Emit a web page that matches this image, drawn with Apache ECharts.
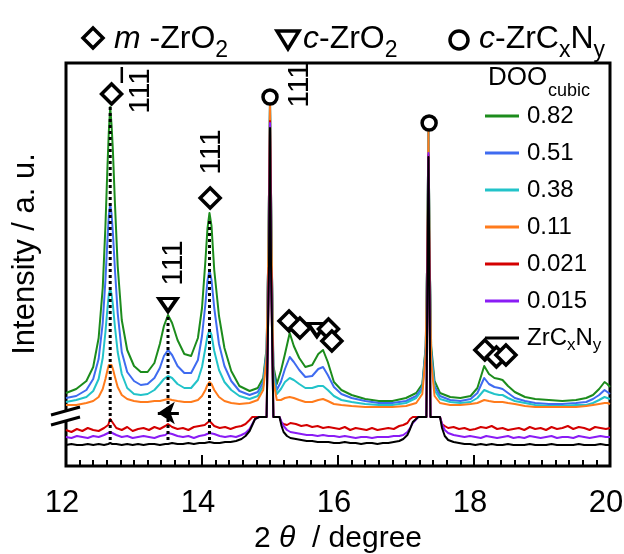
<!DOCTYPE html>
<html>
<head>
<meta charset="utf-8">
<script src="https://cdn.jsdelivr.net/npm/echarts@6/dist/echarts.min.js"></script>
<style>
  html, body { margin: 0; padding: 0; background: #fff; }
  #main { width: 624px; height: 554px; }
</style>
</head>
<body>
<div id="main"></div>
<script>
// 2θ grid for the four upper (colored) patterns
const twoThetaUpper = [
  12.0, 12.15, 12.3, 12.4, 12.48, 12.54, 12.58, 12.61, 12.63, 12.65,
  12.67, 12.69, 12.72, 12.76, 12.82, 12.9, 13.0, 13.1, 13.2, 13.3,
  13.38, 13.44, 13.5, 13.56, 13.64, 13.74, 13.84, 13.94, 14.0, 14.05,
  14.08, 14.11, 14.14, 14.18, 14.25, 14.33, 14.43, 14.55, 14.7, 14.82,
  14.9, 14.95, 14.975, 15.0, 15.025, 15.05, 15.1, 15.16, 15.22, 15.29,
  15.35, 15.43, 15.52, 15.62, 15.71, 15.78, 15.85, 15.94, 16.05, 16.2,
  16.4, 16.6, 16.8, 17.0, 17.15, 17.24, 17.29, 17.31, 17.33, 17.35,
  17.37, 17.42, 17.5, 17.65, 17.8, 17.95, 18.05, 18.15, 18.22, 18.3,
  18.37, 18.42, 18.5, 18.6, 18.75, 18.9, 19.1, 19.3, 19.5, 19.65,
  19.75, 19.84, 19.92, 19.96, 20.0
];
// 2θ grid for the three lower patterns
const twoThetaLower = [
  12.0, 12.08, 12.16, 12.24, 12.32, 12.4, 12.48, 12.56, 12.62, 12.65,
  12.68, 12.74, 12.82, 12.9, 12.98, 13.06, 13.14, 13.22, 13.3, 13.38,
  13.46, 13.5, 13.56, 13.64, 13.72, 13.8, 13.88, 13.96, 14.04, 14.11,
  14.18, 14.26, 14.34, 14.42, 14.5, 14.58, 14.64, 14.7, 14.74, 14.78,
  14.84, 14.9, 14.95, 14.985, 15.0, 15.015, 15.05, 15.1, 15.14, 15.17,
  15.2, 15.25, 15.3, 15.38, 15.46, 15.54, 15.62, 15.7, 15.78, 15.86,
  15.94, 16.02, 16.1, 16.18, 16.26, 16.34, 16.42, 16.5, 16.58, 16.66,
  16.74, 16.82, 16.9, 16.96, 17.02, 17.06, 17.1, 17.18, 17.26, 17.3,
  17.33, 17.36, 17.4, 17.45, 17.5, 17.53, 17.57, 17.62, 17.7, 17.78,
  17.86, 17.94, 18.02, 18.1, 18.18, 18.26, 18.34, 18.42, 18.5, 18.58,
  18.66, 18.74, 18.82, 18.9, 18.98, 19.06, 19.14, 19.22, 19.3, 19.38,
  19.46, 19.54, 19.62, 19.7, 19.78, 19.86, 19.94, 20.0
];

// intensities (arbitrary units, stacked offsets included)
const doo082 = [
  73, 77, 85, 99, 128, 178, 240, 300, 335, 359,
  341, 315, 262, 200, 146, 116, 100, 94, 94, 103,
  122, 140, 151, 143, 126, 112, 110, 128, 158, 205,
  237, 253, 240, 196, 150, 118, 95, 80, 75, 78,
  88, 118, 210, 365, 210, 100, 82, 95, 112, 133,
  120, 108, 99, 101, 112, 116, 104, 84, 76, 71,
  67, 65, 65, 68, 73, 82, 120, 200, 334, 200,
  120, 85, 73, 69, 68, 70, 78, 100, 92, 88,
  87, 86, 80, 74, 69, 67, 66, 65, 66, 68,
  71, 77, 84, 82, 79
];
const doo051 = [
  68, 70, 76, 87, 107, 143, 186, 227, 251, 262,
  252, 233, 196, 153, 114, 94, 85, 81, 82, 88,
  98, 110, 116, 111, 100, 93, 93, 106, 130, 162,
  185, 196, 186, 158, 122, 100, 85, 75, 71, 74,
  84, 115, 210, 364, 210, 95, 76, 84, 97, 109,
  104, 96, 89, 90, 97, 99, 91, 79, 72, 68,
  65, 63, 63, 65, 70, 79, 118, 200, 334, 200,
  115, 80, 70, 66, 65, 67, 73, 88, 82, 79,
  78, 77, 73, 68, 65, 63, 62, 62, 63, 64,
  67, 71, 76, 74, 72
];
const doo038 = [
  64, 66, 69, 75, 87, 108, 134, 158, 172, 177,
  172, 161, 139, 114, 92, 78, 72, 71, 72, 76,
  82, 87, 90, 88, 82, 78, 78, 86, 99, 118,
  130, 136, 131, 115, 96, 84, 76, 70, 67, 70,
  80, 112, 210, 363, 210, 90, 72, 77, 84, 88,
  86, 82, 78, 78, 80, 80, 76, 70, 66, 64,
  62, 61, 61, 63, 68, 76, 115, 200, 334, 200,
  110, 76, 67, 64, 63, 64, 68, 76, 74, 72,
  71, 71, 68, 65, 63, 61, 60, 60, 61, 61,
  63, 66, 69, 68, 67
];
const doo011 = [
  61, 61, 63, 65, 69, 77, 87, 96, 101, 103,
  101, 97, 89, 79, 71, 67, 65, 64, 64, 65,
  65, 66, 67, 66, 65, 64, 64, 66, 70, 76,
  81, 84, 82, 76, 69, 65, 63, 62, 63, 66,
  76, 108, 210, 366, 210, 85, 66, 66, 68, 69,
  68, 66, 64, 64, 66, 67, 65, 62, 61, 60,
  59, 59, 59, 60, 63, 72, 112, 200, 335, 200,
  105, 70, 63, 61, 61, 62, 63, 66, 65, 64,
  64, 64, 63, 62, 60, 59, 59, 59, 59, 60,
  61, 62, 63, 63, 62
];
const doo0021 = [
  36, 34, 37, 35, 38, 36, 35, 38, 41, 47,
  44, 38, 36, 39, 35, 37, 38, 36, 39, 37,
  40, 42, 39, 37, 38, 36, 39, 40, 41, 45,
  40, 38, 39, 37, 39, 40, 42, 46, 49, 49,
  49, 49, 49, 200, 345, 200, 49, 49, 49, 43,
  42, 41, 43, 42, 40, 41, 39, 40, 38, 39,
  38, 37, 39, 36, 38, 37, 36, 38, 36, 37,
  38, 37, 40, 41, 43, 47, 49, 49, 49, 49,
  311, 49, 49, 49, 49, 42, 40, 38, 39, 37,
  38, 36, 37, 39, 38, 40, 37, 38, 36, 37,
  38, 36, 39, 37, 38, 36, 39, 37, 38, 40,
  37, 39, 38, 36, 39, 38, 37, 38
];
const doo0015 = [
  29, 28, 30, 29, 28, 30, 29, 31, 33, 34,
  33, 31, 29, 30, 28, 29, 30, 29, 28, 30,
  31, 33, 32, 30, 29, 30, 28, 30, 31, 33,
  32, 30, 29, 30, 29, 31, 33, 37, 42, 47,
  49, 49, 49, 200, 343, 200, 49, 49, 49, 44,
  40, 36, 34, 33, 32, 31, 31, 30, 31, 30,
  30, 29, 30, 29, 28, 29, 29, 28, 29, 29,
  29, 30, 30, 31, 34, 38, 43, 49, 49, 49,
  313, 49, 49, 49, 49, 42, 36, 33, 31, 30,
  29, 30, 29, 28, 30, 29, 28, 29, 30, 28,
  29, 28, 30, 29, 28, 29, 30, 28, 29, 29,
  28, 30, 29, 28, 29, 30, 29, 29
];
const zrcxny = [
  21, 22, 21, 21, 22, 21, 22, 21, 22, 23,
  22, 22, 21, 22, 21, 22, 21, 22, 22, 21,
  22, 22, 23, 22, 22, 23, 22, 23, 23, 24,
  23, 23, 24, 24, 25, 27, 30, 35, 41, 47,
  49, 49, 49, 200, 338, 200, 49, 49, 49, 40,
  34, 30, 28, 27, 26, 25, 25, 24, 24, 24,
  23, 23, 24, 23, 23, 22, 23, 23, 22, 23,
  23, 24, 25, 27, 31, 37, 44, 49, 49, 49,
  309, 49, 49, 49, 49, 38, 30, 26, 24, 23,
  22, 22, 21, 22, 21, 22, 21, 21, 22, 21,
  21, 21, 22, 21, 21, 21, 22, 21, 21, 21,
  21, 22, 21, 21, 21, 22, 21, 21
];

const curveNames = ['0.82', '0.51', '0.38', '0.11', '0.021', '0.015', 'ZrCxNy'];
const curveColors = ['#1c8c1c', '#3f6bf0', '#22c3c9', '#ff7b1c', '#d40000', '#8a1cf5', '#000000'];

// phase markers
const diamondX = [12.67, 14.12, 15.28, 15.44, 15.86, 15.91, 18.16, 18.33, 18.47];
const diamondY = [372, 268, 145, 138, 137, 125, 116, 109, 111];
const triangleX = [13.5, 15.69];
const triangleY = [161, 136];
const circleX = [15.0, 17.34];
const circleY = [369, 343];

// dotted guide lines + shift arrow
const dropLineX = [12.65, 13.5, 14.11];
const dropLineTop = [359, 149, 248];
const dropLineBottom = 26;
const arrowFrom = [13.66, 53];
const arrowTo = [13.35, 53];

// hkl labels (rotated)
const hklLabelX = [13.10, 13.59, 14.15, 15.43];
const hklLabelY = [375, 203, 314, 381];
const hklLabelText = ['111', '111', '111', '111'];

const FONT = '"Liberation Sans", Arial, Helvetica, sans-serif';
const chart = echarts.init(document.getElementById('main'));

const pair = (xs, ys) => xs.map((x, i) => [x, ys[i]]);
const curveValues = [doo082, doo051, doo038, doo011, doo0021, doo0015, zrcxny];

const curveSeries = curveNames.map((name, i) => ({
  name: name,
  type: 'line',
  data: pair(i < 4 ? twoThetaUpper : twoThetaLower, curveValues[i]),
  symbol: 'none',
  silent: true,
  z: 2,
  lineStyle: { color: curveColors[i], width: 2, join: 'round' },
  itemStyle: { color: curveColors[i] }
}));

const dropSeries = dropLineX.map((x, i) => ({
  type: 'line',
  data: [[x, dropLineBottom], [x, dropLineTop[i]]],
  symbol: 'none',
  silent: true,
  z: 3,
  lineStyle: { color: '#000', width: 3, type: [3, 3] }
}));
dropSeries[1].markLine = {
  silent: true,
  symbol: ['none', 'arrow'],
  symbolSize: 17,
  label: { show: false },
  lineStyle: { color: '#000', width: 3, type: 'solid' },
  data: [[{ coord: arrowFrom }, { coord: arrowTo }]]
};

const markerStyle = { color: '#fff', borderColor: '#000', borderWidth: 3.5, opacity: 1 };
const markerSeries = [
  { type: 'scatter', data: pair(triangleX, triangleY), symbol: 'triangle', symbolRotate: 180,
    symbolSize: [18, 13], itemStyle: markerStyle, z: 4, silent: true },
  { type: 'scatter', data: pair(diamondX, diamondY), symbol: 'diamond',
    symbolSize: 20, itemStyle: markerStyle, z: 5, silent: true },
  { type: 'scatter', data: pair(circleX, circleY), symbol: 'circle',
    symbolSize: 14, itemStyle: markerStyle, z: 5, silent: true }
];

const option = {
  animation: false,
  backgroundColor: '#fff',
  grid: {
    left: 66, right: 14, top: 63, bottom: 88,
    show: true, borderColor: '#000', borderWidth: 3,
    outerBoundsMode: 'none'
  },
  xAxis: {
    type: 'value', min: 12, max: 20, interval: 2,
    axisLine: { show: false },
    axisTick: { inside: true, length: 11, lineStyle: { color: '#000', width: 2 } },
    minorTick: { show: true, splitNumber: 10, length: 6, lineStyle: { color: '#000', width: 2 } },
    splitLine: { show: false },
    minorSplitLine: { show: false },
    axisLabel: { fontSize: 31, fontFamily: FONT, color: '#000', margin: 22, padding: [0, 8, 0, 0] },
    name: '{n|2 }{i|θ}{n|  / degree}',
    nameLocation: 'middle',
    nameGap: 58,
    nameTextStyle: {
      color: '#000',
      rich: {
        n: { fontSize: 30, fontFamily: FONT, color: '#000' },
        i: { fontSize: 30, fontFamily: FONT, fontStyle: 'italic', color: '#000' }
      }
    }
  },
  yAxis: { type: 'value', min: 0, max: 403, show: false },
  legend: {
    data: curveNames,
    orient: 'vertical',
    left: 485, top: 104,
    padding: 0,
    itemGap: 13,
    itemWidth: 34, itemHeight: 3,
    icon: 'rect',
    selectedMode: false,
    formatter: n => n === 'ZrCxNy' ? '{a|ZrC}{s|x}{a|N}{s|y}' : n,
    textStyle: {
      fontSize: 24, fontFamily: FONT, color: '#000', padding: [0, 0, 0, 3],
      rich: {
        a: { fontSize: 24, fontFamily: FONT, color: '#000', lineHeight: 24, verticalAlign: 'top' },
        s: { fontSize: 17, fontFamily: FONT, color: '#000', lineHeight: 17, verticalAlign: 'top', padding: [11, 0, 0, 0] }
      }
    }
  },
  series: [...curveSeries, ...dropSeries, ...markerSeries]
};
chart.setOption(option);

// annotations: header key, axis title, legend title, axis break, hkl labels
const ink = { fill: '#000' };
const subRich = (main, sub, pad) => ({
  i: { fontSize: main, fontFamily: FONT, fontStyle: 'italic', fill: '#000', lineHeight: main, verticalAlign: 'top' },
  n: { fontSize: main, fontFamily: FONT, fill: '#000', lineHeight: main, verticalAlign: 'top' },
  s: { fontSize: sub, fontFamily: FONT, fill: '#000', lineHeight: sub, verticalAlign: 'top', padding: [pad, 0, 0, 0] }
});
const outline = { fill: '#fff', stroke: '#000', lineWidth: 3.5 };

const graphics = [
  // header key
  { type: 'polygon', shape: { points: [[93, 28], [103, 38], [93, 48], [83, 38]] }, style: outline },
  { type: 'polygon', shape: { points: [[277, 31], [299, 31], [288, 49]] }, style: outline },
  { type: 'circle', shape: { cx: 459, cy: 40, r: 9 }, style: outline },
  { type: 'text', x: 114, y: 23, style: { text: '{i|m}{n| -ZrO}{s|2}', rich: subRich(32, 23, 16), verticalAlign: 'top', align: 'left' } },
  { type: 'text', x: 303, y: 23, style: { text: '{i|c}{n|-ZrO}{s|2}', rich: subRich(32, 23, 16), verticalAlign: 'top', align: 'left' } },
  { type: 'text', x: 479, y: 23, style: { text: '{i|c}{n|-ZrC}{s|x}{n|N}{s|y}', rich: subRich(32, 23, 16), verticalAlign: 'top', align: 'left' } },
  // y axis title
  { type: 'text', x: 25, y: 254, rotation: Math.PI / 2,
    style: Object.assign({ text: 'Intensity / a. u.', fontSize: 31, fontFamily: FONT, align: 'center', verticalAlign: 'middle' }, ink) },
  // legend title
  { type: 'text', x: 488, y: 78, style: Object.assign({ text: 'DOO', fontSize: 26, fontFamily: FONT, align: 'left', verticalAlign: 'middle' }, ink) },
  { type: 'text', x: 548, y: 91, style: Object.assign({ text: 'cubic', fontSize: 18, fontFamily: FONT, align: 'left', verticalAlign: 'middle' }, ink) },
  // axis break
  { type: 'polygon', shape: { points: [[58, 413], [74, 409], [74, 419], [58, 423]] }, style: { fill: '#fff' } },
  { type: 'line', shape: { x1: 51, y1: 415, x2: 80, y2: 407 }, style: { stroke: '#000', lineWidth: 3 } },
  { type: 'line', shape: { x1: 51, y1: 425, x2: 80, y2: 417 }, style: { stroke: '#000', lineWidth: 3 } }
];

hklLabelX.forEach((x, i) => {
  const p = chart.convertToPixel({ gridIndex: 0 }, [x, hklLabelY[i]]);
  graphics.push({ type: 'text', x: p[0], y: p[1], rotation: Math.PI / 2,
    style: Object.assign({ text: hklLabelText[i], fontSize: 30, fontFamily: FONT, align: 'center', verticalAlign: 'middle' }, ink) });
  if (i === 0) {
    // overbar on the first index
    graphics.push({ type: 'line', shape: { x1: p[0] - 19, y1: p[1] - 24, x2: p[0] - 19, y2: p[1] - 8 },
      style: { stroke: '#000', lineWidth: 2.5 } });
  }
});

chart.setOption({ graphic: graphics });
</script>
</body>
</html>
